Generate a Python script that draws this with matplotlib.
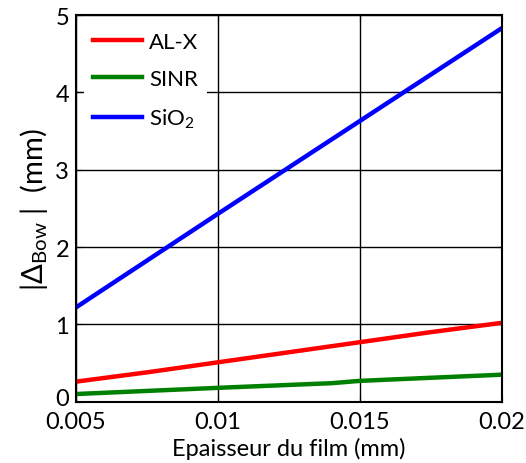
import matplotlib
matplotlib.use("Agg")
import matplotlib.pyplot as plt
import matplotlib.transforms as mtransforms

plt.rcParams['font.family'] = ['Lato', 'DejaVu Sans']
plt.rcParams['mathtext.fontset'] = 'custom'
plt.rcParams['mathtext.rm'] = 'Lato'
plt.rcParams['mathtext.it'] = 'Lato:italic'
plt.rcParams['mathtext.bf'] = 'Lato:bold'

alx_x = [0.005, 0.0075, 0.01, 0.0125, 0.015, 0.0175, 0.02]
alx_y = [0.26, 0.38, 0.51, 0.64, 0.77, 0.90, 1.02]
sinr_x = [0.005, 0.01, 0.014, 0.015, 0.02]
sinr_y = [0.10, 0.18, 0.24, 0.27, 0.35]
sio2_x = [0.005, 0.01, 0.015, 0.02]
sio2_y = [1.22, 2.43, 3.63, 4.83]

xticks = [0.005, 0.01, 0.015, 0.02]
xticklabels = ['0.005', '0.01', '0.015', '0.02']
yticks = [0, 1, 2, 3, 4, 5]

fig = plt.figure(figsize=(5.26, 4.64), dpi=100)
ax = fig.add_axes([0.1445, 0.132, 0.8095, 0.8335])

ax.plot(alx_x, alx_y, color='#ff0000', lw=3.2, label='AL-X')
ax.plot(sinr_x, sinr_y, color='#008000', lw=3.2, label='SINR')
ax.plot(sio2_x, sio2_y, color='#0000ff', lw=3.2, label='SiO$_2$')

ax.set_xlim(0.005, 0.02)
ax.set_ylim(0, 5)
ax.set_xticks(xticks)
ax.set_xticklabels(xticklabels)
ax.set_yticks(yticks)
ax.grid(True, color='black', lw=1.0)
ax.set_axisbelow(True)
ax.tick_params(direction='in', top=True, right=True, labelsize=17, length=4)
ax.tick_params(axis='x', pad=7)
ax.tick_params(axis='y', pad=5)
for s in ax.spines.values():
    s.set_linewidth(1.5)

# lift the "0" y tick label slightly so it clears the first x tick label
ylabels = ax.get_yticklabels()
ylabels[0].set_transform(ylabels[0].get_transform() +
                         mtransforms.ScaledTranslation(0, 4/72, fig.dpi_scale_trans))

ax.set_xlabel('Epaisseur du film (mm)', fontsize=17, labelpad=3)
ax.set_ylabel(r'|$\Delta_{\mathrm{Bow}}$ |  (mm)', fontsize=21, labelpad=4)

leg = ax.legend(loc='upper left', fontsize=16, frameon=True, handlelength=2.2,
                borderaxespad=0.35, labelspacing=0.78, handletextpad=0.35,
                fancybox=False)
leg.get_frame().set_edgecolor('none')
leg.get_frame().set_facecolor('white')
leg.get_frame().set_alpha(1)

fig.savefig('out.png', dpi=100)
